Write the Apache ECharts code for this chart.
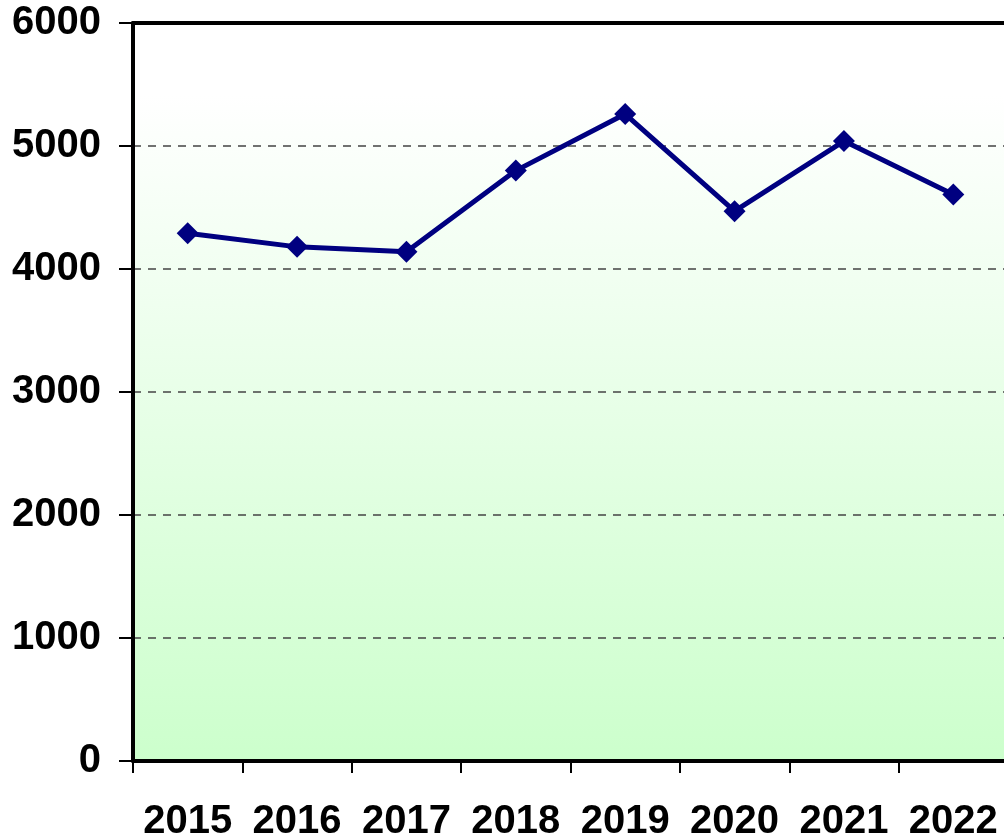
<!DOCTYPE html>
<html><head><meta charset="utf-8">
<script src="https://cdn.jsdelivr.net/npm/echarts@6/dist/echarts.min.js"></script>
<style>html,body{margin:0;padding:0;background:#fff;overflow:hidden}#wrap{width:1004px;height:840px;overflow:hidden;position:relative}#c{width:1012px;height:840px;position:absolute;left:0;top:0}</style>
</head><body><div id="wrap"><div id="c"></div></div>
<script>
var categories = ['2015','2016','2017','2018','2019','2020','2021','2022'];
var values = [4290, 4180, 4140, 4800, 5260, 4470, 5040, 4605];
var yTicks = {min: 0, max: 6000, interval: 1000};

var chart = echarts.init(document.getElementById('c'), null, {renderer: 'canvas'});
var font = '"Liberation Sans", Arial, sans-serif';
chart.setOption({
  animation: false,
  grid: {
    left: 133, top: 23, right: 4, bottom: 79,
    outerBoundsMode: 'none', containLabel: false,
    show: true,
    backgroundColor: {type: 'linear', x: 0, y: 0, x2: 0, y2: 1,
      colorStops: [{offset: 0, color: '#ffffff'}, {offset: 0.098, color: '#ffffff'}, {offset: 1, color: '#ccffcc'}]},
    borderWidth: 0, borderColor: 'rgba(0,0,0,0)'
  },
  xAxis: [{
    type: 'category', data: categories, boundaryGap: true,
    axisLine: {lineStyle: {color: '#000', width: 4}},
    axisTick: {show: true, length: 12, lineStyle: {color: '#000', width: 2}},
    axisLabel: {color: '#000', fontFamily: font, fontWeight: 'bold', fontSize: 40, margin: 41, interval: 0},
    splitLine: {show: false}
  }, {
    type: 'category', data: categories, position: 'top',
    axisLine: {show: true, lineStyle: {color: '#000', width: 4}},
    axisTick: {show: false}, axisLabel: {show: false}, splitLine: {show: false}
  }],
  yAxis: {
    type: 'value', min: yTicks.min, max: yTicks.max, interval: yTicks.interval,
    axisLine: {show: true, lineStyle: {color: '#000', width: 4}},
    axisTick: {show: true, length: 14, lineStyle: {color: '#000', width: 2}},
    axisLabel: {color: '#000', fontFamily: font, fontWeight: 'bold', fontSize: 40, margin: 32,
      formatter: function (v) { return String(v); }},
    splitLine: {show: true, lineStyle: {color: '#444', width: 1.5, type: [8, 7]}}
  },
  series: [{
    type: 'line', data: values,
    lineStyle: {color: '#000080', width: 5},
    itemStyle: {color: '#000080'},
    symbol: 'diamond', symbolSize: [22, 22]
  }]
});
</script></body></html>
